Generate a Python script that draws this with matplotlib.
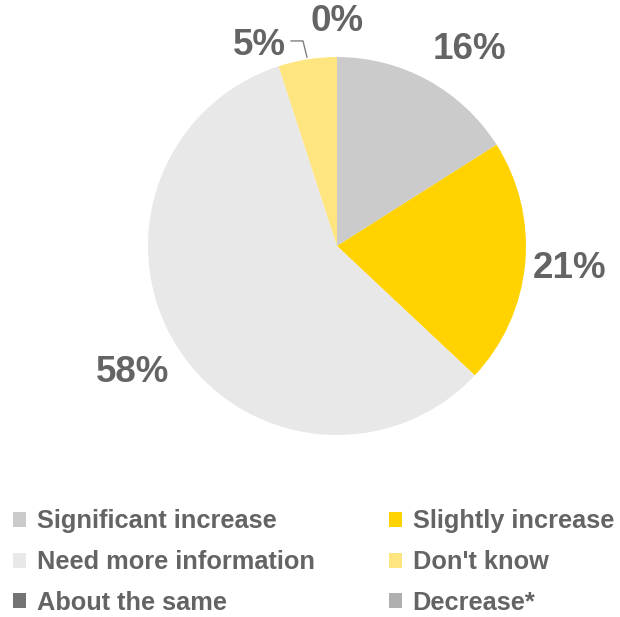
import matplotlib.pyplot as plt

# Survey answers, in the order they are drawn (clockwise from 12 o'clock)
categories = ["Significant increase", "Slightly increase", "Need more information",
              "Don't know", "About the same", "Decrease*"]
shares = [16, 21, 58, 5, 0, 0]
colors = ["#CBCBCB", "#FFD200", "#E8E8E8", "#FFE57F", "#747474", "#AFAFAF"]

# label placement (in pie-radius units) for the slices that get a label
label_pos = {0: (0.70, 1.04), 1: (1.23, -0.12), 2: (-1.08, -0.67),
             3: (-0.41, 1.06), 4: (0.0, 1.19)}

plt.rcParams['font.family'] = ['Liberation Sans', 'DejaVu Sans']
text_color = "#646464"

fig = plt.figure(figsize=(6.2, 6.17), dpi=100)
ax = fig.add_axes([(337 - 189) / 620, (617 - 246 - 189) / 617, 378 / 620, 378 / 617])

wedges, _ = ax.pie(shares, colors=colors, startangle=90, counterclock=False,
                   radius=1.0, wedgeprops=dict(linewidth=0))
ax.set_xlim(-1, 1)
ax.set_ylim(-1, 1)
ax.set_aspect('equal')
ax.axis('off')

for i, (x, y) in label_pos.items():
    ax.text(x, y, f"{shares[i]}%", ha='center', va='center', fontsize=26.5,
            fontweight='bold', color=text_color, clip_on=False)

# leader line for the small "Don't know" slice
ax.plot([-0.243, -0.180, -0.159], [1.085, 1.085, 1.0], color="#7F7F7F",
        linewidth=1.0, clip_on=False)

# legend reads row by row, so feed it column by column
order = [0, 2, 4, 1, 3, 5]
leg = fig.legend([wedges[i] for i in order], [categories[i] for i in order],
                 ncol=2, loc='upper left',
                 bbox_to_anchor=(0.0, 0.195), frameon=False,
                 prop=dict(size=18.3, weight='bold'),
                 handlelength=0.53, handleheight=0.53, handletextpad=0.42,
                 columnspacing=2.9, labelspacing=0.66, borderpad=0)
for t in leg.get_texts():
    t.set_color(text_color)

fig.savefig("out.png", dpi=100)
